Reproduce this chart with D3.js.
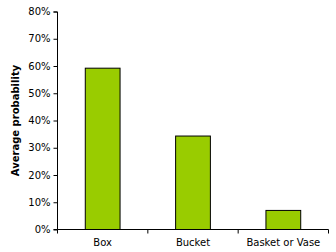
<!DOCTYPE html>
<html>
<head>
<meta charset="utf-8">
<script src="https://cdn.jsdelivr.net/npm/d3@7"></script>
<style>
  body { margin: 0; background: #fff; }
  text { font-family: "DejaVu Sans", Verdana, sans-serif; }
</style>
</head>
<body>
<div id="chart"></div>
<script>
// chart data
const categories = ["Box", "Bucket", "Basket or Vase"];
const values = [0.592, 0.343, 0.07];
const yTicks = [0, 0.1, 0.2, 0.3, 0.4, 0.5, 0.6, 0.7, 0.8];

const W = 336, H = 252;
const margin = { top: 11.5, right: 7.5, bottom: 22.5, left: 57.5 };
const width = W - margin.left - margin.right;
const height = H - margin.top - margin.bottom;

const svg = d3.select("#chart").append("svg")
    .attr("width", W)
    .attr("height", H);

const g = svg.append("g")
    .attr("transform", `translate(${margin.left}, ${margin.top})`);

// scales
const x = d3.scaleBand()
    .domain(categories)
    .range([0, width])
    .paddingInner(0.615)
    .paddingOuter(0.3075);

const y = d3.scaleLinear()
    .domain([0, 0.8])
    .range([height, 0]);

// bars
g.selectAll("rect.bar")
    .data(values)
    .enter()
    .append("rect")
        .attr("class", "bar")
        .attr("x", (d, i) => x(categories[i]))
        .attr("y", d => y(d))
        .attr("width", x.bandwidth())
        .attr("height", d => height - y(d))
        .attr("fill", "#99cc00")
        .attr("stroke", "#000")
        .attr("stroke-width", 1);

// y axis
const yAxis = d3.axisLeft(y)
    .tickValues(yTicks)
    .tickFormat(d3.format(".0%"))
    .tickSize(4)
    .tickPadding(3);
const gy = g.append("g").call(yAxis);
gy.select(".domain").attr("stroke", "#000").attr("d", `M-4,0.5H0V${height}H-4`);
gy.selectAll(".tick text").attr("font-size", 10).attr("fill", "#000")
    .style("font-family", '"DejaVu Sans", Verdana, sans-serif');

// x axis, ticks at band boundaries
const gx = g.append("g").attr("transform", `translate(0, ${height})`);
gx.append("line")
    .attr("x1", 0).attr("x2", width)
    .attr("stroke", "#000");
const step = x.step();
const edges = d3.range(categories.length + 1).map(i => i * width / categories.length);
gx.selectAll("line.tk")
    .data(edges)
    .enter()
    .append("line")
        .attr("class", "tk")
        .attr("x1", d => d).attr("x2", d => d)
        .attr("y1", 0).attr("y2", 4)
        .attr("stroke", "#000");
gx.selectAll("text")
    .data(categories)
    .enter()
    .append("text")
        .attr("x", d => x(d) + x.bandwidth() / 2)
        .attr("y", 16)
        .attr("text-anchor", "middle")
        .attr("font-size", 10)
        .text(d => d);

// y title
svg.append("text")
    .attr("transform", `translate(19, ${margin.top + height / 2}) rotate(-90)`)
    .attr("text-anchor", "middle")
    .attr("font-size", 10)
    .attr("font-weight", "bold")
    .text("Average probability");
</script>
</body>
</html>
